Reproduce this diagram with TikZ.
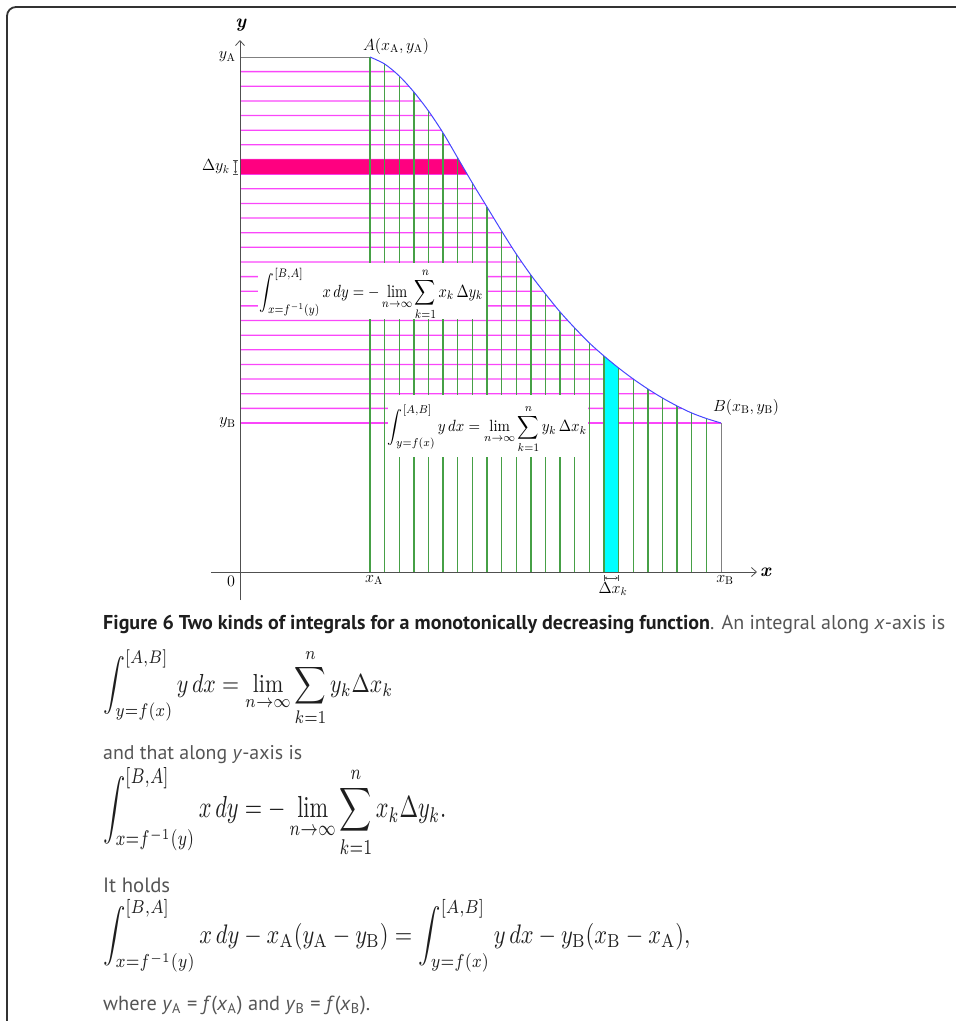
\documentclass[tikz,border=0pt]{standalone}
\usepackage{fontspec}
\usepackage{amsmath}
\usepackage{graphicx}
\newfontfamily\capfont{PT Sans}
\usetikzlibrary{arrows.meta,intersections}
\definecolor{pinkline}{RGB}{250,70,250}
\definecolor{greenline}{RGB}{70,160,70}
\definecolor{stripmag}{RGB}{255,0,128}
\definecolor{stripcyan}{RGB}{0,255,255}
\definecolor{curveblue}{RGB}{70,70,255}
\definecolor{axisgray}{RGB}{80,80,80}
\definecolor{capgray}{RGB}{85,85,85}
\definecolor{capdark}{RGB}{30,30,30}
\definecolor{framegray}{RGB}{50,50,50}
\begin{document}
\begin{tikzpicture}[x=1pt,y=-1pt,
  hline/.style={pinkline, line width=1.3pt},
  vline/.style={greenline, line width=1.3pt},
  edgeline/.style={gray, line width=1pt},
  axisline/.style={axisgray, line width=0.8pt, -{Straight Barb[length=5pt,width=9pt]}},
  lbl/.style={inner sep=1pt, font=\fontsize{14.4}{16}\selectfont, scale=1.12},
  axlbl/.style={inner sep=1pt, font=\fontsize{19}{21}\selectfont},
  eqbox/.style={fill=white, draw=none},
  formula/.style={inner sep=0pt},
  captxt/.style={inner sep=0pt, anchor=base west, text=capgray},
  capeq/.style={inner sep=0pt, anchor=north west, text=capdark},
  tick/.style={axisgray, line width=0.6pt, |<->|, >={Stealth[length=2.5pt,width=3pt]}}]
\useasboundingbox (0,0) rectangle (956,1021);

% frame
\draw[framegray, line width=1.8pt, rounded corners=9pt] (7,1040) -- (7,7) -- (975,7);

% curve path
\path[name path=curve] plot[smooth] coordinates {(370,57) (384.625,64) (399.25,76) (413.875,92) (428.5,111) (443.125,133) (457.75,158) (472.375,183) (487,207) (501.625,231) (516.25,254) (530.875,275) (545.5,294) (560.125,312) (574.75,328) (589.375,343) (604,356) (618.625,368) (633.25,379) (647.875,389) (662.5,398) (677.125,406) (691.75,413) (706.375,418.5) (721,423)};

% horizontal magenta lines
\foreach \j in {1,...,24}{
  \path[name path=hl] (240,{57+14.64*\j}) -- (800,{57+14.64*\j});
  \path[name intersections={of=curve and hl, by={P}}];
  \draw[hline] (240,{57+14.64*\j}) -- (P);
}
\draw[hline] (240,423) -- (721,423);
\draw[edgeline] (240,57) -- (370,57);

% magenta strip
\path[name path=hseven] (240,159.48) -- (800,159.48);
\path[name path=height] (240,174.12) -- (800,174.12);
\path[name intersections={of=curve and hseven, by={S1}}];
\path[name intersections={of=curve and height, by={S2}}];
\fill[stripmag] (240,159.48) -- (S1) -- (S2) -- (240,174.12) -- cycle;

% cyan strip
\fill[stripcyan] (604,572) -- (604,356) -- (618.625,368) -- (618.625,572) -- cycle;

% vertical green lines
\foreach \yy [count=\i from 0] in {57,64,76,92,111,133,158,183,207,231,254,275,294,312,328,343,356,368,379,389,398,406,413,418.5}{
  \draw[vline] ({370+14.625*\i},572) -- ({370+14.625*\i},\yy);
}
\draw[edgeline] (721,572) -- (721,423);

% curve
\draw[curveblue, line width=1pt] plot[smooth] coordinates {(370,57) (384.625,64) (399.25,76) (413.875,92) (428.5,111) (443.125,133) (457.75,158) (472.375,183) (487,207) (501.625,231) (516.25,254) (530.875,275) (545.5,294) (560.125,312) (574.75,328) (589.375,343) (604,356) (618.625,368) (633.25,379) (647.875,389) (662.5,398) (677.125,406) (691.75,413) (706.375,418.5) (721,423)};

% white boxes with formulas
\fill[eqbox] (258,263.2) rectangle (486,319.3);
\fill[eqbox] (388,395) rectangle (588,457);
\node[formula] (fone) at (371.5,294) {\resizebox*{223pt}{52pt}{$\displaystyle\int_{x=f^{-1}(y)}^{[B,A]} x\,dy=-\lim_{n\to\infty}\sum_{k=1}^{n}x_k\,\Delta y_k$}};
\node[formula] (ftwo) at (487.5,429) {\resizebox*{199pt}{48pt}{$\displaystyle\int_{y=f(x)}^{[A,B]} y\,dx=\lim_{n\to\infty}\sum_{k=1}^{n}y_k\,\Delta x_k$}};

% axes
\coordinate (xstart) at (211,572);
\coordinate (xend) at (757,572);
\coordinate (ystart) at (240,600);
\coordinate (yend) at (240,40);
\draw[axisline] (xstart) -- (xend);
\draw[axisline] (ystart) -- (yend);
\node[axlbl] (ylab) at (241,25) {\textbf{\textit{y}}};
\node[axlbl, anchor=west] (xlab) at (759,572) {\textbf{\textit{x}}};
\node[lbl] (zero) at (231,581) {$0$};

% labels
\node[lbl, anchor=east] (yA) at (237,57) {$y_{\mathrm{A}}$};
\node[lbl, anchor=east] (yB) at (237,423) {$y_{\mathrm{B}}$};
\node[lbl, anchor=east] (dy) at (231,167) {$\Delta y_k$};
\coordinate (dyt) at (235.5,159.5);
\coordinate (dyb) at (235.5,174.1);
\draw[tick] (dyt) -- (dyb);
\node[lbl, anchor=north] (xA) at (374,574) {$x_{\mathrm{A}}$};
\node[lbl, anchor=north] (xB) at (725,574) {$x_{\mathrm{B}}$};
\coordinate (dxl) at (604,578);
\coordinate (dxr) at (618.6,578);
\draw[tick] (dxl) -- (dxr);
\node[lbl, anchor=north] (dx) at (613,581) {$\Delta x_k$};
\node[lbl] (Alab) at (396,46) {$A(x_{\mathrm{A}},y_{\mathrm{A}})$};
\node[lbl] (Blab) at (746,407) {$B(x_{\mathrm{B}},y_{\mathrm{B}})$};

% caption
\node[captxt] (cap) at (103,629) {\resizebox{842pt}{!}{\capfont{\color{capdark}\bfseries Figure 6 Two kinds of integrals for a monotonically decreasing function}. An integral along \textit{x}-axis is}};
\node[capeq] (eqone) at (103,649) {\resizebox*{290pt}{77pt}{$\displaystyle\int_{y=f(x)}^{[A,B]} y\,dx=\lim_{n\to\infty}\sum_{k=1}^{n}y_k\Delta x_k$}};
\node[captxt] (along) at (103,759) {\resizebox{199pt}{!}{\capfont and that along \textit{y}-axis is}};
\node[capeq] (eqtwo) at (103,767) {\resizebox*{343pt}{90pt}{$\displaystyle\int_{x=f^{-1}(y)}^{[B,A]} x\,dy=-\lim_{n\to\infty}\sum_{k=1}^{n}x_k\Delta y_k.$}};
\node[captxt] (holds) at (103,892) {\resizebox{67pt}{!}{\capfont It holds}};
\node[capeq] (eqthree) at (103,899) {\resizebox*{587pt}{73pt}{$\displaystyle\int_{x=f^{-1}(y)}^{[B,A]} x\,dy-x_{\mathrm{A}}(y_{\mathrm{A}}-y_{\mathrm{B}})=\int_{y=f(x)}^{[A,B]} y\,dx-y_{\mathrm{B}}(x_{\mathrm{B}}-x_{\mathrm{A}}),$}};
\node[captxt] (where) at (103,1010) {\resizebox{267pt}{!}{\capfont where \textit{y}\textsubscript{A} = \textit{f}(\textit{x}\textsubscript{A}) and \textit{y}\textsubscript{B} = \textit{f}(\textit{x}\textsubscript{B}).}};
\end{tikzpicture}
\end{document}
